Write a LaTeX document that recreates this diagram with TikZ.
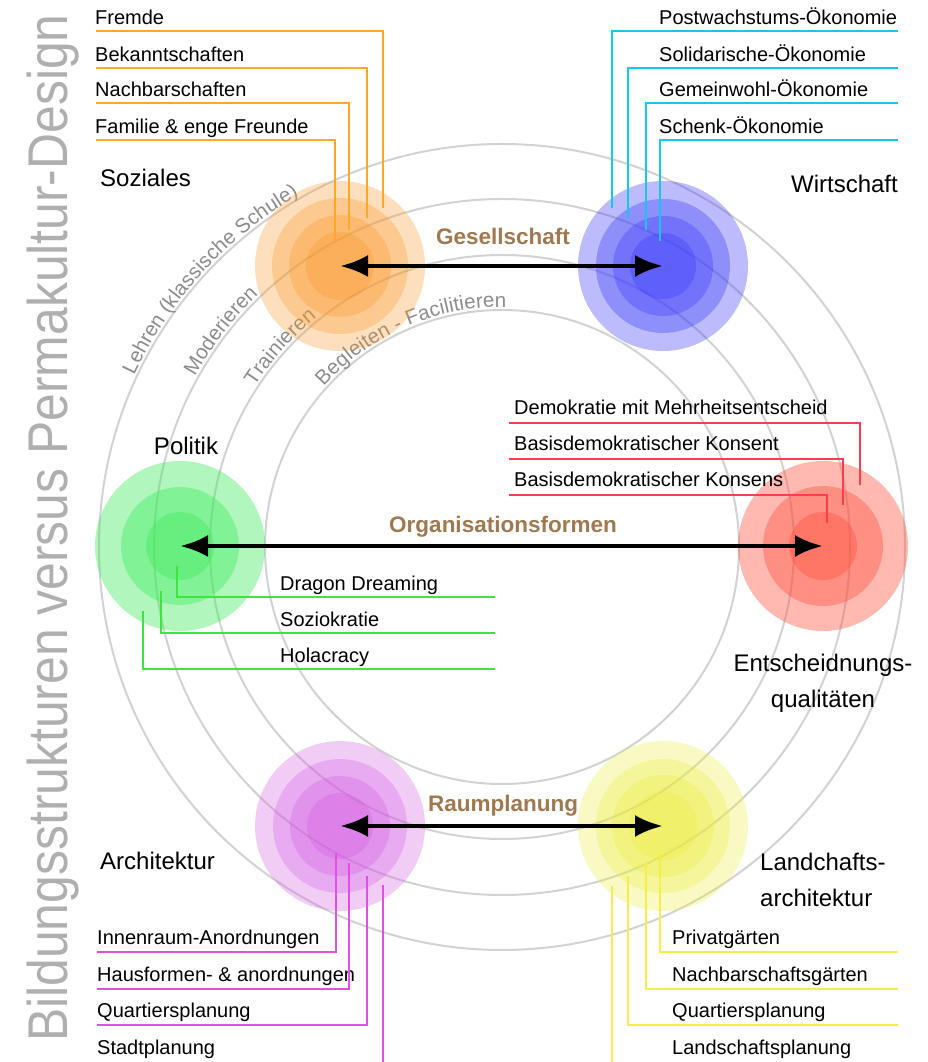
\documentclass[tikz,border=0pt]{standalone}
\usepackage{fontspec}
\setmainfont{Liberation Sans}
\usetikzlibrary{arrows.meta,decorations.text}

\definecolor{sozcol}{RGB}{250,150,40}
\definecolor{wirtcol}{RGB}{60,60,250}
\definecolor{policol}{RGB}{60,235,90}
\definecolor{entscol}{RGB}{255,80,60}
\definecolor{archicol}{RGB}{210,90,225}
\definecolor{landcol}{RGB}{235,235,60}
\definecolor{sozline}{RGB}{255,167,38}
\definecolor{wirtline}{RGB}{20,200,235}
\definecolor{poliline}{RGB}{60,230,60}
\definecolor{entsline}{RGB}{255,60,80}
\definecolor{archiline}{RGB}{225,80,225}
\definecolor{landline}{RGB}{245,238,70}
\definecolor{ringgray}{RGB}{210,210,210}
\definecolor{ringtext}{RGB}{140,140,140}
\definecolor{fieldbrown}{RGB}{160,120,80}
\definecolor{titlegray}{RGB}{175,175,175}

\begin{document}
\begin{tikzpicture}[x=1pt, y=1pt,
    lbl/.style={font=\fontsize{20}{24}\selectfont, inner sep=0pt},
    area/.style={font=\fontsize{24}{36}\selectfont, inner sep=0pt},
    field/.style={font=\bfseries\fontsize{22.5}{26}\selectfont, text=fieldbrown, inner sep=0pt},
    ring/.style={draw=ringgray, line width=2pt},
    wire/.style={draw=#1, line width=2pt},
    blob/.style={fill=#1, fill opacity=0.3},
    biarrow/.style={line width=4.5pt, {Latex[length=28pt,width=22pt]}-{Latex[length=28pt,width=22pt]}},
    ringlabel/.style={decorate, decoration={text along path, raise=3pt, text align=left,
        text color=ringtext, text={|\fontsize{20.5}{24}\selectfont|#1}}}]
  \useasboundingbox (0,0) rectangle (927,1062);

  % Titel
  \node[rotate=90, anchor=base, text=titlegray, font=\fontsize{56}{60}\selectfont] (titel) at (67,534)
    {\scalebox{0.89}[1]{Bildungsstrukturen versus Permakultur-Design}};

  % Ringe
  \coordinate (mid) at (502,515);
  \foreach \r in {237,292,348,403}
    \draw[ring] (mid) circle[radius=\r];
  \path[ringlabel={Lehren (klassische Schule)}] (mid) ++(155:403) arc[start angle=155, end angle=90, radius=403];
  \path[ringlabel={Moderieren}] (mid) ++(151:348) arc[start angle=151, end angle=100, radius=348];
  \path[ringlabel={Trainieren}] (mid) ++(147:292) arc[start angle=147, end angle=100, radius=292];
  \path[ringlabel={Begleiten - Facilitieren}] (mid) ++(138:237) arc[start angle=138, end angle=70, radius=237];

  % Bereiche
  \coordinate (soz) at (340,796);
  \coordinate (wirt) at (663,796);
  \coordinate (poli) at (180,516);
  \coordinate (ents) at (823,516);
  \coordinate (archi) at (340,236);
  \coordinate (land) at (663,236);
  \foreach \r in {85,68,51,34} \fill[blob=sozcol] (soz) circle[radius=\r];
  \foreach \r in {85,67,50,33} \fill[blob=wirtcol, fill opacity=0.35] (wirt) circle[radius=\r];
  \foreach \r in {85,59,34} \fill[blob=policol, fill opacity=0.4] (poli) circle[radius=\r];
  \foreach \r in {85,60,34} \fill[blob=entscol, fill opacity=0.4] (ents) circle[radius=\r];
  \foreach \r in {85,67,50,33} \fill[blob=archicol] (archi) circle[radius=\r];
  \foreach \r in {85,67,51,34} \fill[blob=landcol] (land) circle[radius=\r];

  % Soziales
  \foreach \nm/\txt/\yb/\xv/\ye in {fremde/Fremde/1037/383/854, bekannt/Bekanntschaften/1000/367/844,
      nachbar/Nachbarschaften/965/349/832, familie/Familie \& enge Freunde/928/335/822}{
    \node[lbl, anchor=base west] (\nm) at (95,\yb) {\txt};
    \coordinate (\nm-a) at (96,\yb-6);
    \coordinate (\nm-e) at (\xv,\ye);
    \draw[wire=sozline] (\nm-a) -| (\nm-e);
  }
  % Wirtschaft
  \foreach \nm/\txt/\yb/\xv/\ye in {post/Postwachstums-Ökonomie/1037/612/854, soli/Solidarische-Ökonomie/1000/628/844,
      gemein/Gemeinwohl-Ökonomie/965/646/832, schenk/Schenk-Ökonomie/928/660/821}{
    \node[lbl, anchor=base west] (\nm) at (659,\yb) {\txt};
    \coordinate (\nm-a) at (898,\yb-6);
    \coordinate (\nm-e) at (\xv,\ye);
    \draw[wire=wirtline] (\nm-a) -| (\nm-e);
  }
  % Entscheidungen
  \foreach \nm/\txt/\yb/\xv/\ye in {demo/Demokratie mit Mehrheitsentscheid/647/860/577,
      konsent/Basisdemokratischer Konsent/611/843/557, konsens/Basisdemokratischer Konsens/575/827/539}{
    \node[lbl, anchor=base west] (\nm) at (514,\yb) {\txt};
    \coordinate (\nm-a) at (509,\yb-8);
    \coordinate (\nm-e) at (\xv,\ye);
    \draw[wire=entsline] (\nm-a) -| (\nm-e);
  }
  % Politik
  \foreach \nm/\txt/\yb/\xv/\ye in {dragon/Dragon Dreaming/471/177/496, sozio/Soziokratie/435/161/471,
      hola/Holacracy/399/143/451}{
    \node[lbl, anchor=base west] (\nm) at (280,\yb) {\txt};
    \coordinate (\nm-a) at (495,\yb-6);
    \coordinate (\nm-e) at (\xv,\ye);
    \draw[wire=poliline] (\nm-a) -| (\nm-e);
  }
  % Architektur
  \foreach \nm/\txt/\yb/\xv/\ye in {innen/Innenraum-Anordnungen/117/336/209, haus/Hausformen- \& anordnungen/80/349/199,
      quartier/Quartiersplanung/44/367/186}{
    \node[lbl, anchor=base west] (\nm) at (97,\yb) {\txt};
    \coordinate (\nm-a) at (97,\yb-7.5);
    \coordinate (\nm-e) at (\xv,\ye);
    \draw[wire=archiline] (\nm-a) -| (\nm-e);
  }
  \node[lbl, anchor=base west] (stadt) at (97,7) {Stadtplanung};
  \coordinate (stadt-a) at (383,0);
  \coordinate (stadt-e) at (383,177);
  \draw[wire=archiline] (stadt-a) -- (stadt-e);
  % Landschaftsarchitektur
  \foreach \nm/\txt/\yb/\xv/\ye in {privat/Privatgärten/117/660/209, nbgarten/Nachbarschaftsgärten/80/646/199,
      quartier2/Quartiersplanung/44/628/186}{
    \node[lbl, anchor=base west] (\nm) at (672,\yb) {\txt};
    \coordinate (\nm-a) at (898,\yb-7.5);
    \coordinate (\nm-e) at (\xv,\ye);
    \draw[wire=landline] (\nm-a) -| (\nm-e);
  }
  \node[lbl, anchor=base west] (landpl) at (672,7) {Landschaftsplanung};
  \coordinate (landpl-a) at (612,0);
  \coordinate (landpl-e) at (612,176);
  \draw[wire=landline] (landpl-a) -- (landpl-e);

  % Pfeile
  \draw[biarrow] (soz) -- (wirt);
  \draw[biarrow] (poli) -- (ents);
  \draw[biarrow] (archi) -- (land);
  \node[field, anchor=base] (gesell) at (503,817) {Gesellschaft};
  \node[field, anchor=base] (orga) at (503,529) {Organisationsformen};
  \node[field, anchor=base] (raum) at (503,250) {Raumplanung};

  % Bereichsnamen
  \node[area, anchor=base west] (sozlbl) at (100,875) {Soziales};
  \node[area, anchor=base east] (wirtlbl) at (898,869) {Wirtschaft};
  \node[area, anchor=base] (polilbl) at (186,607) {Politik};
  \node[area, anchor=base, align=center] (entslbl) at (823,354) {Entscheidnungs-\\qualitäten};
  \node[area, anchor=base west, align=left] (landlbl) at (760,155) {Landchafts-\\architektur};
  \node[area, anchor=base west] (archilbl) at (100,192) {Architektur};
\end{tikzpicture}
\end{document}
